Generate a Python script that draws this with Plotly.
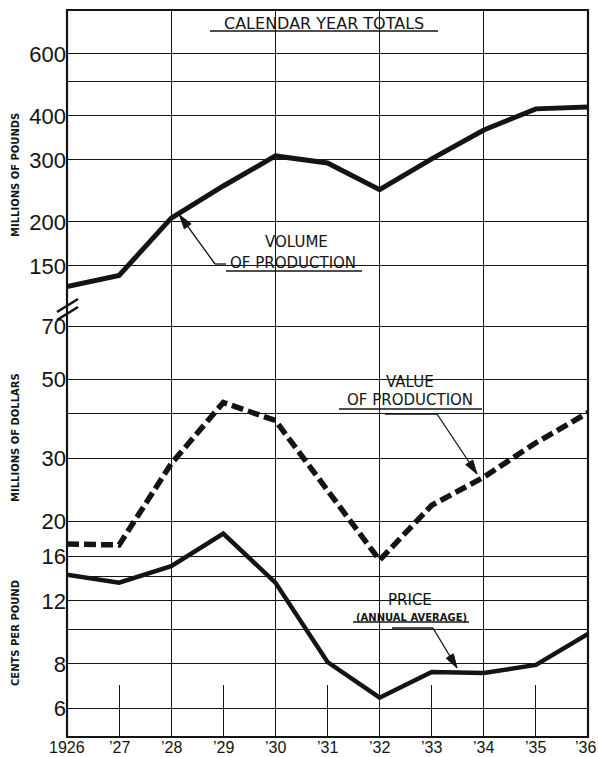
import math
import plotly.graph_objects as go
from plotly.subplots import make_subplots

# calendar year totals
years = list(range(1926, 1937))
year_labels = ["1926", "’27", "’28", "’29", "’30", "’31", "’32", "’33", "’34", "’35", "’36"]
volume = [131, 141, 205, 253, 308, 294, 247, 302, 365, 419, 424]      # millions of pounds
value = [17.3, 17.2, 29.0, 43.0, 38.3, 24.4, 15.6, 22.2, 26.6, 33.2, 40.3]  # millions of dollars
price = [14.2, 13.5, 15.0, 18.5, 13.5, 8.1, 6.44, 7.6, 7.55, 7.95, 9.7]    # cents per pound

top_ticks = [150, 200, 300, 400, 500, 600]
top_labels = ["150", "200", "300", "400", "", "600"]
bottom_ticks = [6, 8, 10, 12, 14, 16, 20, 30, 40, 50, 70]
bottom_labels = ["6", "8", "", "12", "", "16", "20", "30", "", "50", "70"]
grid_years = [1928, 1930, 1932, 1934]

INK = "#141414"
W, H = 598, 757
L, T, PW, PH = 67, 10, 521, 727
SPLIT = 296 / PH

def px(x, y):
    # reference pixel -> paper coords
    return (x - L) / PW, (T + PH - y) / PH

shapes = []

def seg(x0, y0, x1, y1, width=1.4):
    a, b = px(x0, y0)
    c, d = px(x1, y1)
    shapes.append(dict(type="line", xref="paper", yref="paper", x0=a, y0=b, x1=c, y1=d,
                       line=dict(color=INK, width=width), layer="above"))

def mask(x0, y0, x1, y1):
    a, b = px(x0, y1)
    c, d = px(x1, y0)
    shapes.append(dict(type="rect", xref="paper", yref="paper", x0=a, y0=b, x1=c, y1=d,
                       fillcolor="white", line=dict(width=0), layer="between"))

def leader(points, length=14, half=4.2):
    for (x0, y0), (x1, y1) in zip(points[:-1], points[1:]):
        seg(x0, y0, x1, y1, 1.3)
    (fx, fy), (tx, ty) = points[-2], points[-1]
    n = math.hypot(tx - fx, ty - fy)
    ux, uy = (tx - fx) / n, (ty - fy) / n
    bx, by = tx - ux * length, ty - uy * length
    pts = [px(tx, ty), px(bx - uy * half, by + ux * half), px(bx + uy * half, by - ux * half)]
    path = "M{},{} L{},{} L{},{} Z".format(*[v for p in pts for v in p])
    shapes.append(dict(type="path", xref="paper", yref="paper", path=path,
                       fillcolor=INK, line=dict(color=INK, width=1), layer="above"))

fig = make_subplots(rows=2, cols=1, shared_xaxes=True, vertical_spacing=0,
                    row_heights=[SPLIT, 1 - SPLIT])

fig.add_trace(go.Scatter(x=years, y=volume, mode="lines", name="Volume of production",
                         line=dict(color=INK, width=5)), row=1, col=1)
fig.add_trace(go.Scatter(x=years, y=value, mode="lines", name="Value of production",
                         line=dict(color=INK, width=5.5, dash="12px,5px")), row=2, col=1)
fig.add_trace(go.Scatter(x=years, y=price, mode="lines", name="Price",
                         line=dict(color=INK, width=4.5)), row=2, col=1)

tick_font = dict(family="Liberation Sans, Arial, sans-serif", size=22, color=INK)
fig.update_xaxes(range=[1926, 1936], showgrid=False, zeroline=False, showline=False,
                 automargin=False, tickvals=years, showticklabels=False,
                 minor=dict(tickvals=grid_years, showgrid=True, gridcolor=INK, gridwidth=1.3))
fig.update_xaxes(ticks="", row=1, col=1)
fig.update_xaxes(ticks="inside", ticklen=52, tickwidth=1.3, tickcolor=INK, row=2, col=1)
fig.update_yaxes(type="log", showgrid=True, gridcolor=INK, gridwidth=1.3, zeroline=False,
                 showline=False, ticks="", automargin=False, tickfont=tick_font)
fig.update_yaxes(range=[math.log10(115.4), math.log10(800)], tickvals=top_ticks,
                 ticktext=top_labels, row=1, col=1)
fig.update_yaxes(range=[math.log10(5), math.log10(80)], tickvals=bottom_ticks,
                 ticktext=bottom_labels, row=2, col=1)

# gaps in the grid around the lettering
mask(205, 10, 443, 36)
mask(200, 226, 366, 278)
mask(350, 370, 463, 396)
mask(332, 396, 481, 422)
mask(456, 455, 481, 463)
mask(375, 592, 447, 612)
mask(350, 612, 469, 637)
mask(440, 660, 464, 670)

# underlines and leaders
seg(210, 31, 438, 31, 1.5)
seg(226, 271, 362, 271, 1.5)
seg(339, 409, 482, 409, 1.5)
seg(353, 622, 469, 622, 1.5)
leader([(226, 264), (215, 264), (179.5, 215)])
leader([(385, 414), (437, 414), (477, 474)])
leader([(392, 628), (433, 628), (457, 668)])

# axis break marks
seg(57, 312, 78, 299, 2.6)
seg(57, 320, 78, 307, 2.6)

# frame
shapes.append(dict(type="rect", xref="paper", yref="paper", x0=0, y0=0, x1=1, y1=1,
                   line=dict(color=INK, width=2.2), layer="above"))

annotations = []

def label(text, x, y, size=15, bold=False, angle=0):
    a, b = px(x, y)
    annotations.append(dict(text=text, x=a, y=b, xref="paper", yref="paper",
                            xanchor="center", yanchor="middle", showarrow=False,
                            textangle=angle,
                            font=dict(family="DejaVu Sans, sans-serif", size=size, color=INK,
                                      weight="bold" if bold else "normal")))

label("CALENDAR YEAR TOTALS", 324, 23, size=16)
label("VOLUME", 296, 242)
label("OF PRODUCTION", 293, 263)
label("VALUE", 410, 382)
label("OF PRODUCTION", 410, 400)
label("PRICE", 410, 600)
label("(ANNUAL AVERAGE)", 411, 617, size=10, bold=True)
label("MILLIONS OF POUNDS", 15, 175, size=10, bold=True, angle=-90)
label("MILLIONS OF DOLLARS", 15, 438, size=10, bold=True, angle=-90)
label("CENTS PER POUND", 15, 633, size=10, bold=True, angle=-90)

# year labels under the bottom panel, kept inside the page
for yr, txt in zip(years, year_labels):
    last = yr == years[-1]
    annotations.append(dict(text=txt, x=yr, xref="x2", y=px(0, 747)[1], yref="paper",
                            xanchor="right" if last else "center", xshift=9 if last else 0,
                            yanchor="middle", showarrow=False, borderpad=0,
                            font=dict(family="Liberation Sans, Arial, sans-serif",
                                      size=16, color=INK)))

fig.update_layout(width=W, height=H, autosize=False, showlegend=False,
                  margin=dict(l=L, r=W - L - PW, t=T, b=H - T - PH),
                  paper_bgcolor="white", plot_bgcolor="white",
                  shapes=shapes, annotations=annotations)

# the page body has a default 8px margin; drop it so the figure fills the window
fig.write_html("out.html", config={"displayModeBar": False},
               post_script="document.body.style.margin='0';document.body.style.overflow='hidden';")
